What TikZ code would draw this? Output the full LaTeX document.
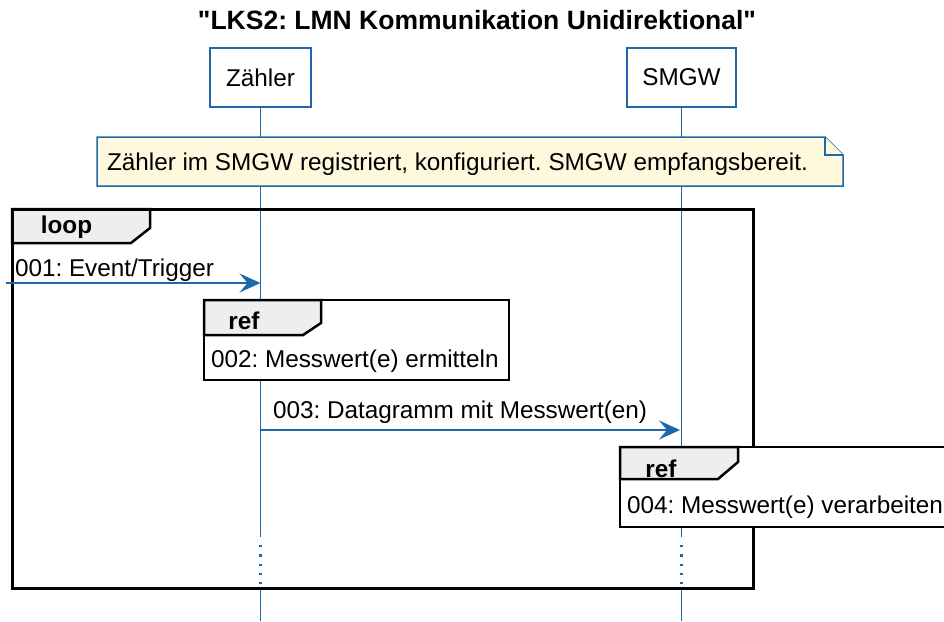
\documentclass[tikz,border=0pt]{standalone}
\usepackage{fontspec}
\setmainfont{Liberation Sans}
\usetikzlibrary{arrows.meta}
\definecolor{lblue}{RGB}{31,103,168}
\definecolor{notefill}{RGB}{254,248,221}
\definecolor{tabfill}{RGB}{238,238,238}
\tikzset{
  txt/.style={font=\fontsize{24.3}{29}\selectfont},
  boldtxt/.style={font=\fontsize{24.3}{29}\selectfont\bfseries},
  titletext/.style={font=\fontsize{26.5}{32}\selectfont\bfseries},
  partbox/.style={draw=lblue, line width=2pt, fill=white, minimum height=59pt, txt},
  lifeline/.style={draw=lblue, line width=1.2pt},
  lifedots/.style={draw=lblue, line width=2.2pt, dash pattern=on 2.2pt off 7.1pt},
  msg/.style={draw=lblue, line width=1.5pt, -{Stealth[length=21pt,width=19pt,inset=8pt]}},
  framebox/.style={draw=black, line width=3pt},
  tabshape/.style={draw=black, line width=2.5pt, fill=tabfill, line join=miter},
  refbox/.style={draw=black, line width=2.5pt, fill=white},
  notebox/.style={draw=lblue, line width=1.5pt, fill=notefill, line join=miter},
}
\frenchspacing
\begin{document}
\begin{tikzpicture}[x=1pt,y=-1pt, every node/.style={inner sep=0pt, outer sep=0pt}]
\path[use as bounding box] (0,0) rectangle (944,621);
\clip (0,0) rectangle (944,621);

% title
\node[titletext, anchor=base] (title) at (477,29) {\textquotedbl LKS2: LMN Kommunikation Unidirektional\textquotedbl};

% participants
\node[partbox, minimum width=101pt] (z) at (260.5,77.5) {Zähler};
\node[partbox, minimum width=109pt] (s) at (681.5,77.5) {SMGW};

% lifelines
\coordinate (zA) at (260.5,537);
\coordinate (zB) at (260.5,545);
\coordinate (zC) at (260.5,588);
\coordinate (zD) at (260.5,621);
\coordinate (sA) at (681.5,537);
\coordinate (sB) at (681.5,545);
\coordinate (sC) at (681.5,588);
\coordinate (sD) at (681.5,621);
\draw[lifeline] (z.south) -- (zA);
\draw[lifedots] (zB) -- (zC);
\draw[lifeline] (zC) -- (zD);
\draw[lifeline] (s.south) -- (sA);
\draw[lifedots] (sB) -- (sC);
\draw[lifeline] (sC) -- (sD);

% note
\node[minimum width=746pt, minimum height=49pt] (note) at (470,161.5) {};
\draw[notebox] (note.north west) -- ([xshift=-18pt]note.north east)
  -- ([yshift=-18pt]note.north east) -- (note.south east) -- (note.south west) -- cycle;
\draw[notebox] ([xshift=-18pt]note.north east) -- ([xshift=-18pt,yshift=-18pt]note.north east)
  -- ([yshift=-18pt]note.north east);
\node[txt, anchor=base west] (notetext) at (107,170) {Zähler im SMGW registriert, konfiguriert. SMGW empfangsbereit.};

% loop frame
\node[minimum width=741pt, minimum height=379pt] (loop) at (382.5,398.5) {};
\draw[tabshape] (loop.north west) -- ++(138,0) -- ++(0,19) -- ++(-19,15) -- ++(-119,0) -- cycle;
\draw[framebox] (loop.north west) rectangle (loop.south east);
\node[boldtxt, anchor=base] (looplabel) at (66.5,233) {loop};

% message 001
\coordinate (src1) at (6,283);
\coordinate (dst1) at (260.5,283);
\draw[msg] (src1) -- (dst1);
\node[txt, anchor=base west] (m1) at (15,276) {001: Event/Trigger};

% ref 002
\node[refbox, minimum width=305pt, minimum height=80pt] (ref1) at (356.5,340) {};
\draw[tabshape] (ref1.north west) -- ++(117,0) -- ++(0,23) -- ++(-18,12) -- ++(-99,0) -- cycle;
\node[boldtxt, anchor=base] (ref1label) at (244,329) {ref};
\node[txt, anchor=base west] (ref1text) at (211,367) {002: Messwert(e) ermitteln};

% message 003
\coordinate (src3) at (260.5,430);
\coordinate (dst3) at (680,430);
\draw[msg] (src3) -- (dst3);
\node[txt, anchor=base west] (m3) at (273,418) {003: Datagramm mit Messwert(en)};

% ref 004
\node[refbox, minimum width=328pt, minimum height=80pt] (ref2) at (784,487) {};
\draw[tabshape] (ref2.north west) -- ++(118,0) -- ++(0,15) -- ++(-20,17) -- ++(-98,0) -- cycle;
\node[boldtxt, anchor=base] (ref2label) at (661,477) {ref};
\node[txt, anchor=base west] (ref2text) at (627,513) {004: Messwert(e) verarbeiten};
\end{tikzpicture}
\end{document}
